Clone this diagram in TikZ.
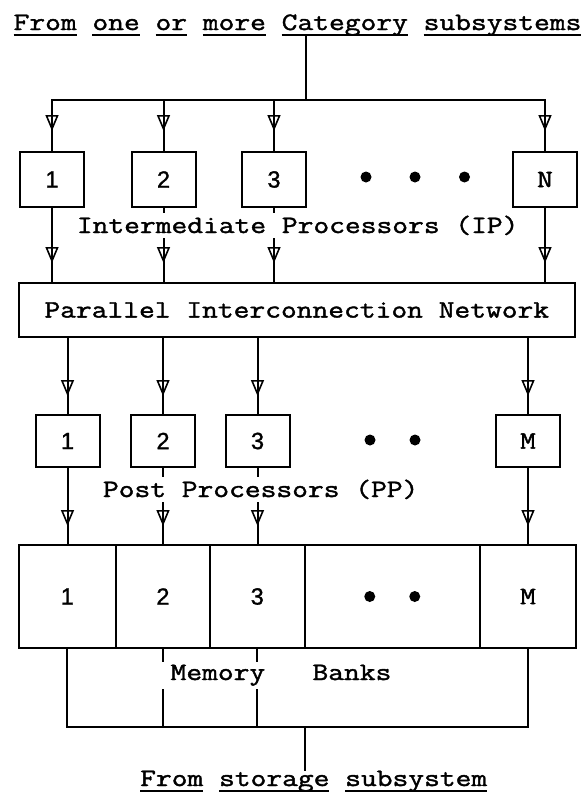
\documentclass[tikz,border=0pt]{standalone}
\usepackage{fontspec}
\newfontfamily\cour{Latin Modern Mono}[FakeStretch=1.225, FakeBold=1.6]
\newfontfamily\hel{Liberation Sans}[FakeBold=1.2]
\usetikzlibrary{arrows.meta,decorations.markings}
\newcommand\ulw[1]{\setbox0\hbox{#1}\rlap{\rule[-5.5pt]{\wd0}{1.8pt}}\box0\relax}
\tikzset{
  ln/.style={line width=2pt},
  feed/.style={ln, postaction={decorate}, decoration={markings,
      mark=at position #1 with {\arrow[line width=1.6pt]{Triangle[open,length=16pt,width=13pt]}}}},
  txt/.style={font=\cour\fontsize{25}{30}\selectfont, inner sep=0pt},
  lbl/.style={txt, fill=white, inner xsep=10pt, inner ysep=3pt},
  digit/.style={font=\hel\fontsize{23.5}{26}\selectfont},
  letter/.style={font=\cour\fontsize{25}{30}\selectfont},
  ipbox/.style={draw, ln, minimum width=64pt, minimum height=55pt, inner sep=0pt, digit},
  ppbox/.style={draw, ln, minimum width=64pt, minimum height=52pt, inner sep=0pt, digit},
  cell/.style={draw, ln, minimum height=103pt, inner sep=0pt, digit},
  dot/.style={circle, fill=black, inner sep=0pt, minimum size=11pt},
}
\begin{document}
\begin{tikzpicture}[x=1pt,y=-1pt]
\useasboundingbox (0,0) rectangle (586,795);
\fill[white] (0,0) rectangle (586,795);

% source text
\node[txt, anchor=base] (src) at (297.5,30) {\ulw{From} \ulw{one} \ulw{or} \ulw{more} \ulw{Category} \ulw{subsystems}};
\coordinate (bus) at (306,100);

% intermediate processors
\node[ipbox] (ip1) at (52,179.5) {1};
\node[ipbox] (ip2) at (163.5,179.5) {2};
\node[ipbox] (ip3) at (274,179.5) {3};
\node[ipbox, letter] (ipN) at (545,179.5) {N};
\node[dot] (ipd1) at (366,177) {};
\node[dot] (ipd2) at (415,177) {};
\node[dot] (ipd3) at (464.5,177) {};

% network
\node[draw, ln, txt, minimum width=556pt, minimum height=54pt] (pin) at (296.8,310) {Parallel Interconnection Network};

% post processors
\node[ppbox] (pp1) at (67.5,441) {1};
\node[ppbox] (pp2) at (163,441) {2};
\node[ppbox] (pp3) at (257.5,441) {3};
\node[ppbox, letter] (ppM) at (528,441) {M};
\node[dot] (ppd1) at (370,440) {};
\node[dot] (ppd2) at (415,440) {};

% memory banks
\node[cell, minimum width=97pt] (mb1) at (67.3,596.5) {1};
\node[cell, minimum width=94.2pt] (mb2) at (162.9,596.5) {2};
\node[cell, minimum width=94.5pt] (mb3) at (257.25,596.5) {3};
\node[cell, minimum width=175.5pt] (mbd) at (392.25,596.5) {};
\node[cell, minimum width=96pt, letter] (mbM) at (528,596.5) {M};
\node[dot] (mbd1) at ([xshift=-22.5pt]mbd.center) {};
\node[dot] (mbd2) at ([xshift=22.5pt]mbd.center) {};

% destination text
\node[txt, anchor=base] (dst) at (313.7,786) {\ulw{From} \ulw{storage} \ulw{subsystem}};
\coordinate (sink) at (304.5,727);

% connectors
\draw[ln] (src.south -| bus) -- (bus);
\draw[ln] (ip1.north) -- (ip1.north |- bus) -- (ipN.north |- bus) -- (ipN.north);
\foreach \b in {ip1,ip2,ip3,ipN} \draw[feed=31pt] (\b.north |- bus) -- (\b.north);
\foreach \b in {ip1,ip2,ip3,ipN} \draw[feed=55pt] (\b.south) -- (\b.south |- pin.north);
\foreach \b in {pp1,pp2,pp3,ppM} \draw[feed=58pt] (\b.north |- pin.south) -- (\b.north);
\foreach \b in {pp1,pp2,pp3,ppM} \draw[feed=58pt] (\b.south) -- (\b.south |- mb1.north);
\draw[ln] (mb1.south) -- (mb1.south |- sink) -- (mbM.south |- sink) -- (mbM.south);
\draw[ln] (mb2.south) -- (mb2.south |- sink);
\draw[ln] (mb3.south) -- (mb3.south |- sink);
\draw[ln] (sink) -- (sink |- dst.north);

% labels over the lines
\node[lbl, anchor=base] (iplbl) at (297.7,233) {Intermediate Processors (IP)};
\node[lbl, anchor=base] (pplbl) at (260.7,497) {Post Processors (PP)};
\node[lbl, anchor=base] (mblbl) at (281,680) {Memory~~~Banks};
\end{tikzpicture}
\end{document}
